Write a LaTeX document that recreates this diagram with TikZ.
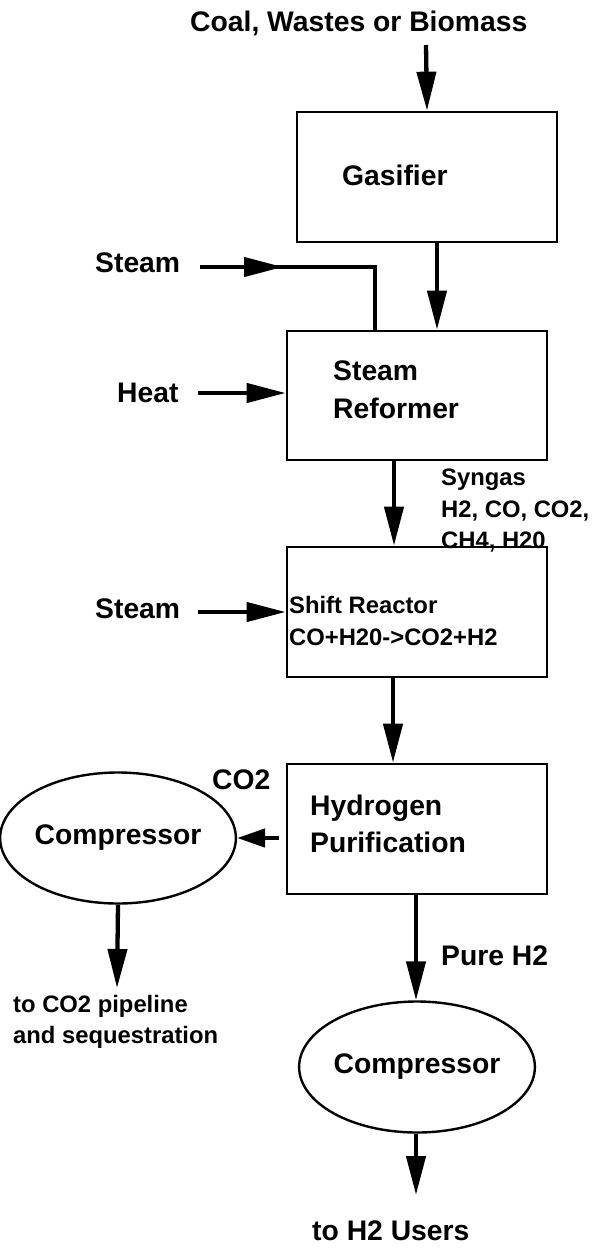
\documentclass[tikz,border=0pt]{standalone}
\usepackage{fontspec}
\setmainfont{Liberation Sans}
\usetikzlibrary{arrows.meta,shapes.geometric}
\newcommand{\bigf}{\fontsize{28.3}{34}\selectfont\bfseries}
\newcommand{\smallf}{\fontsize{23.8}{31}\selectfont\bfseries}
\begin{document}
\begin{tikzpicture}[x=1pt,y=-1pt,
  box/.style={draw,line width=2.7pt,rectangle,minimum width=260pt,minimum height=130pt,inner sep=0pt},
  comp/.style={draw,line width=2.4pt,ellipse,minimum width=218pt,minimum height=131pt,inner sep=0pt,font=\bigf},
  lbl/.style={anchor=base west,inner sep=0pt,font=\bigf},
  slbl/.style={anchor=base west,inner sep=0pt,font=\smallf},
  flow/.style={line width=4.3pt,-{Triangle[length=39pt,width=19pt]}},
  flowshort/.style={line width=4.3pt,-{Triangle[length=28pt,width=18pt]}},
  pipe/.style={line width=4.3pt,line join=miter}]
\useasboundingbox (0,0) rectangle (592,1253);

% boxes
\node[box] (gas) at (427,177) {};
\node[box,minimum height=129pt] (ref) at (417,395.5) {};
\node[box] (shift) at (417,612) {};
\node[box] (hp) at (417,829) {};
\node[comp] (c1) at (118,838) {Compressor};
\node[comp] (c2) at (417,1067) {Compressor};

% labels
\node[lbl] (title) at (190,31) {Coal, Wastes or Biomass};
\node[lbl] (gastxt) at (342,185) {Gasifier};
\node[lbl] (steam1) at (95,272) {Steam};
\node[lbl] (heat) at (117,402) {Heat};
\node[lbl] (reftxt1) at (333,380) {Steam};
\node[lbl] (reftxt2) at (333,418) {Reformer};
\node[slbl] (syn1) at (441,485) {Syngas};
\node[slbl] (syn2) at (441,517) {H2, CO, CO2,};
\node[slbl] (syn3) at (441,548) {CH4, H20};
\node[lbl] (steam2) at (95,618) {Steam};
\node[slbl] (sh1) at (289,613) {Shift Reactor};
\node[slbl] (sh2) at (289,645) {CO+H20->CO2+H2};
\node[lbl] (co2) at (212,789) {CO2};
\node[lbl] (hp1) at (310,815) {Hydrogen};
\node[lbl] (hp2) at (310,852) {Purification};
\node[slbl] (pipe1) at (13,1012) {to CO2 pipeline};
\node[slbl] (pipe2) at (13,1043) {and sequestration};
\node[lbl] (pure) at (441,965) {Pure H2};
\node[lbl] (users) at (312,1240) {to H2 Users};

% coordinates for free ends
\coordinate (feedstart) at (426,45);
\coordinate (s1start) at (200,267);
\coordinate (s1mid) at (283,267);
\coordinate (s1end) at (375,331);
\coordinate (heatstart) at (198,393);
\coordinate (s2start) at (198,612);
\coordinate (co2out) at (117,988);
\coordinate (h2out) at (416,1195);

% connectors
\draw[flow] (feedstart) -- (gas.north);
\draw[flow] ([xshift=10pt]gas.south) -- ([xshift=20pt]ref.north);
\draw[pipe] (s1start) -| (s1end);
\draw[flow] (s1start) -- (s1mid);
\draw[flow] (heatstart) -- (heatstart -| ref.west);
\draw[flow] ([xshift=-23pt]ref.south) -- ([xshift=-23pt]shift.north);
\draw[flow] (s2start) -- (s2start -| shift.west);
\draw[flow] ([xshift=-24pt]shift.south) -- ([xshift=-24pt]hp.north);
\draw[flowshort] ([shift={(-7,9)}]hp.west) -- (c1.east);
\draw[flow] (c1.south) -- (co2out);
\draw[flow] ([xshift=-1pt]hp.south) -- ([xshift=-1pt]c2.north);
\draw[flow] ([xshift=-1pt]c2.south) -- (h2out);
\end{tikzpicture}
\end{document}
